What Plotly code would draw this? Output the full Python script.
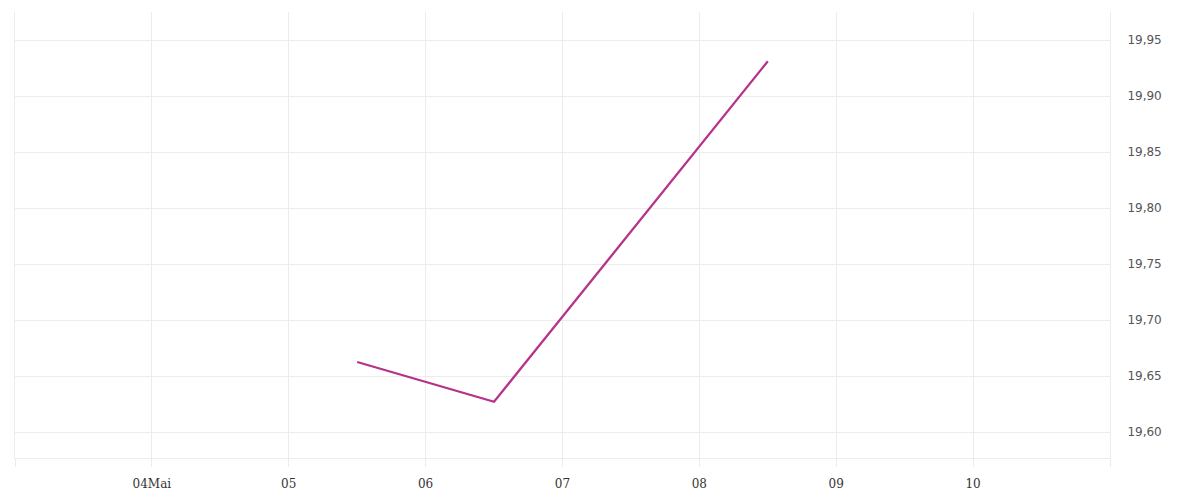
import plotly.graph_objects as go

dates = ["2024-05-05 12:00", "2024-05-06 12:00", "2024-05-08 12:00"]
values = [19.6625, 19.627, 19.931]

tick_dates = ["2024-05-03", "2024-05-04", "2024-05-05", "2024-05-06", "2024-05-07",
              "2024-05-08", "2024-05-09", "2024-05-10", "2024-05-11"]
tick_labels = ["", "04Mai", "05", "06", "07", "08", "09", "10", ""]
y_ticks = [19.60, 19.65, 19.70, 19.75, 19.80, 19.85, 19.90, 19.95]
y_labels = ["19,60", "19,65", "19,70", "19,75", "19,80", "19,85", "19,90", "19,95"]

fig = go.Figure(go.Scatter(
    x=dates, y=values, mode="lines",
    line=dict(color="#b5338a", width=2.3),
))

fig.update_layout(
    width=1200, height=500,
    margin=dict(l=7, r=98, t=4, b=50),
    paper_bgcolor="white", plot_bgcolor="white",
    showlegend=False,
    xaxis=dict(
        range=["2024-05-03", "2024-05-11"],
        tickvals=tick_dates, ticktext=tick_labels,
        showgrid=True, gridcolor="#ececec", gridwidth=1,
        ticks="outside", ticklen=8, tickcolor="#ececec",
        ticklabelstandoff=7,
        showline=True, linecolor="#ececec", linewidth=1,
        tickfont=dict(family="DejaVu Serif", size=12, color="#333"),
        zeroline=False,
    ),
    yaxis=dict(
        side="right",
        range=[19.5768, 19.975],
        tickvals=y_ticks, ticktext=y_labels,
        showgrid=True, gridcolor="#ececec", gridwidth=1,
        showline=True, linecolor="#ececec", linewidth=1, mirror=True,
        ticks="outside", ticklen=14, tickcolor="rgba(0,0,0,0)",
        tickfont=dict(family="DejaVu Sans", size=12, color="#555"),
        zeroline=False,
    ),
)

fig.write_html("out.html")
